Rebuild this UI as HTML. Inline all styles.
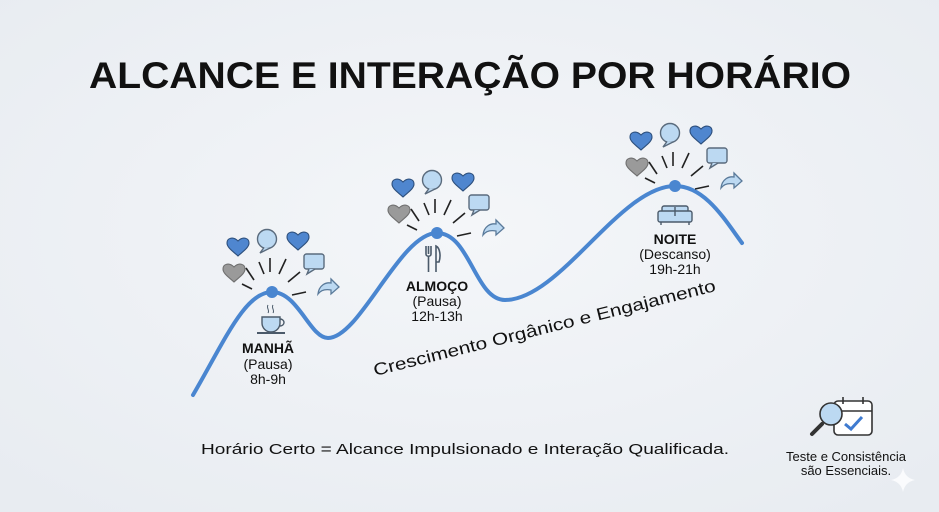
<!DOCTYPE html>
<html><head><meta charset="utf-8"><style>
html,body{margin:0;padding:0;width:939px;height:512px;overflow:hidden;background:#eef1f5}
</style></head><body>
<svg width="939" height="512" viewBox="0 0 939 512" xmlns="http://www.w3.org/2000/svg" font-family="Liberation Sans, DejaVu Sans, sans-serif">
<defs>
<radialGradient id="bg" cx="50%" cy="45%" r="70%"><stop offset="0" stop-color="#f4f6f9"/><stop offset="1" stop-color="#e8ecf1"/></radialGradient>
<path id="heart" d="M0,8 C-4,4 -11,0 -11,-5 C-11,-10 -5,-12 0,-7 C5,-12 11,-10 11,-5 C11,0 4,4 0,8 Z"/>
<g id="bub"><circle r="9.5" fill="#bcd9f2" stroke="#5a6b7d" stroke-width="1.4"/><path d="M-3,8.5 L-7,14 L3,9" fill="#bcd9f2" stroke="#5a6b7d" stroke-width="1.4"/></g>
<g id="rect"><rect x="-10" y="-8" width="20" height="15" rx="2.5" fill="#bcd9f2" stroke="#5a6b7d" stroke-width="1.4"/><path d="M-5,7 L-7,12 L1,7" fill="#bcd9f2" stroke="#5a6b7d" stroke-width="1.4"/></g>
<path id="arr" d="M-10,7 C-9,-2 -2,-5 3,-4 L3,-8 L11,0 L3,7 L3,3 C-2,2 -7,3 -10,7 Z" fill="#bcd9f2" stroke="#5a7a9a" stroke-width="1.3"/>
<g id="burst">
<use href="#heart" x="-34" y="-44" fill="#4f86cf" stroke="#2d4f7c" stroke-width="1.1"/>
<use href="#bub" x="-5" y="-53"/>
<use href="#heart" x="26" y="-50" fill="#4f86cf" stroke="#2d4f7c" stroke-width="1.1"/>
<use href="#heart" x="-38" y="-18" fill="#9a9a9a" stroke="#6f6f6f" stroke-width="1.1"/>
<use href="#rect" x="42" y="-30"/>
<use href="#arr" x="56" y="-5"/>
<g stroke="#222" stroke-width="1.6">
<line x1="-26" y1="-24" x2="-18" y2="-12"/><line x1="-13" y1="-30" x2="-8" y2="-18"/>
<line x1="-2" y1="-34" x2="-2" y2="-20"/><line x1="14" y1="-33" x2="7" y2="-18"/>
<line x1="28" y1="-20" x2="16" y2="-10"/><line x1="-30" y1="-8" x2="-20" y2="-3"/>
<line x1="20" y1="3" x2="34" y2="0"/>
</g>
</g>
</defs>
<rect width="939" height="512" fill="url(#bg)"/>
<text x="470" y="88" text-anchor="middle" font-size="37" font-weight="bold" fill="#111" textLength="762" lengthAdjust="spacingAndGlyphs">ALCANCE E INTERAÇÃO POR HORÁRIO</text>
<path d="M193,395 C225,340 245,292 272,292 C298,292 310,338 328,338 C360,338 400,233 437,233 C470,233 475,300 505,300 C560,300 620,186 675,186 C705,186 725,220 742,243" fill="none" stroke="#4a86d0" stroke-width="4" stroke-linecap="round"/>
<use href="#burst" x="272" y="292"/>
<use href="#burst" x="437" y="233"/>
<use href="#burst" x="675" y="186"/>
<circle cx="272" cy="292" r="6" fill="#4a86d0"/>
<circle cx="437" cy="233" r="6" fill="#4a86d0"/>
<circle cx="675" cy="186" r="6" fill="#4a86d0"/>
<g stroke="#4b5a6a" stroke-width="1.4" fill="#bcd9f2">
<path d="M262,317 h18 v6 a9,9 0 0 1 -18,0 z"/><path d="M280,319 a4,3.5 0 0 1 0,7" fill="none"/>
<path d="M257,333 h28" stroke-width="2"/>
<path d="M268,305 c-2,3 2,5 0,8 M273,305 c-2,3 2,5 0,8" fill="none" stroke-width="1"/>
</g>
<g stroke="#4b5a6a" stroke-width="1.6" fill="none">
<path d="M426,246 v8 c0,3 5,3 5,0 v-8 M428.5,246 v8 M428.5,256 v16"/>
<path d="M436,272 v-26 c4,2 5,10 3,16 h-3"/>
</g>
<g stroke="#4b5a6a" stroke-width="1.4" fill="#bcd9f2">
<rect x="662" y="206" width="26" height="10" rx="2"/><rect x="658" y="211" width="34" height="11" rx="2"/>
<line x1="675" y1="207" x2="675" y2="216"/><line x1="661" y1="222" x2="661" y2="225"/><line x1="689" y1="222" x2="689" y2="225"/>
</g>
<g font-size="14" fill="#111" text-anchor="middle">
<text x="268" y="353" font-weight="bold">MANHÃ</text><text x="268" y="369">(Pausa)</text><text x="268" y="384">8h-9h</text>
<text x="437" y="291" font-weight="bold">ALMOÇO</text><text x="437" y="306">(Pausa)</text><text x="437" y="321">12h-13h</text>
<text x="675" y="244" font-weight="bold">NOITE</text><text x="675" y="259">(Descanso)</text><text x="675" y="274">19h-21h</text>
</g>
<text x="375" y="376" font-size="17" fill="#111" transform="rotate(-14 375 376)" textLength="352" lengthAdjust="spacingAndGlyphs">Crescimento Orgânico e Engajamento</text>
<text x="465" y="454" font-size="15" text-anchor="middle" fill="#111" textLength="528" lengthAdjust="spacingAndGlyphs">Horário Certo = Alcance Impulsionado e Interação Qualificada.</text>
<g stroke="#333" stroke-width="1.6">
<rect x="834" y="401" width="38" height="34" rx="4" fill="#fff"/>
<path d="M834,411 h38" /><line x1="843" y1="397" x2="843" y2="404"/><line x1="863" y1="397" x2="863" y2="404"/>
<path d="M845,424 l6,5 l11,-12" fill="none" stroke="#3f7bd0" stroke-width="3"/>
<line x1="822" y1="424" x2="812" y2="434" stroke-width="4" stroke-linecap="round"/>
<circle cx="831" cy="414" r="11" fill="#bcd9f2"/>
</g>
<text x="846" y="461" font-size="13" text-anchor="middle" fill="#111">Teste e Consistência</text>
<text x="846" y="475" font-size="13" text-anchor="middle" fill="#111">são Essenciais.</text>
<path d="M903,468 q2,10 12,12 q-10,2 -12,12 q-2,-10 -12,-12 q10,-2 12,-12z" fill="#fafbfd"/>
</svg>
</body></html>
